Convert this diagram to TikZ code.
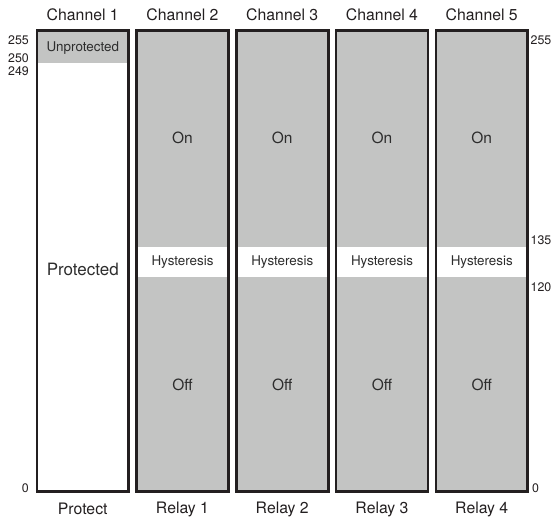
\documentclass[tikz,border=0pt]{standalone}
\usepackage{fontspec}
\setmainfont{TeX Gyre Heros}
\definecolor{ink}{RGB}{35,31,32}
\definecolor{fillg}{RGB}{195,196,195}
\definecolor{txt}{RGB}{45,45,45}
\begin{document}
\begin{tikzpicture}[x=1pt,y=-1pt,
  colbox/.style={draw=ink,line width=2.6pt},
  head/.style={font=\fontsize{15.8}{18}\selectfont,text=ink,inner sep=0pt},
  scalelbl/.style={font=\fontsize{12.4}{14}\selectfont,text=ink,inner sep=0pt},
  inlbl/.style={font=\fontsize{15.5}{18}\selectfont,text=txt,inner sep=0pt},
  smalllbl/.style={font=\fontsize{13.4}{16}\selectfont,text=txt,inner sep=0pt}]
\useasboundingbox (0,0) rectangle (552,519);
% Channel 1
\fill[fillg] (35.5,29) rectangle (130,63);
\draw[colbox] (36.8,30.3) rectangle (128.7,491.7);
\node[head] (ch1) at (82.75,15) {Channel 1};
\node[head] (pr) at (82.75,509) {Protect};
\node[smalllbl] (unp) at (82.75,48) {Unprotected};
\node[font=\fontsize{17}{20}\selectfont,text=txt,inner sep=0pt] (prot) at (82.75,269) {Protected};
% Channels 2-5
\foreach \i/\r in {2/1,3/2,4/3,5/4}{
  \pgfmathsetmacro{\L}{35.5+99.75*(\i-1)}
  \pgfmathsetmacro{\R}{\L+94.5}
  \pgfmathsetmacro{\C}{(\L+\R)/2}
  \fill[fillg] (\L,29) rectangle (\R,493);
  \fill[white] (\L,247) rectangle (\R,277);
  \draw[colbox] (\L+1.3,30.3) rectangle (\R-1.3,491.7);
  \node[head] (ch\i) at (\C,15) {Channel \i};
  \node[head] (rl\r) at (\C,509) {Relay \r};
  \node[inlbl] (on\i) at (\C,138) {On};
  \node[smalllbl] (hy\i) at (\C,262) {Hysteresis};
  \node[inlbl] (off\i) at (\C,385) {Off};
}
% scale labels left
\node[scalelbl,anchor=east] (l255) at (29,40) {255};
\node[scalelbl,anchor=east] (l250) at (29,58) {250};
\node[scalelbl,anchor=east] (l249) at (29,71) {249};
\node[scalelbl,anchor=east] (l0) at (29,488) {0};
% scale labels right
\node[scalelbl,anchor=east] (r255) at (551.5,40) {255};
\node[scalelbl,anchor=east] (r135) at (551.5,240) {135};
\node[scalelbl,anchor=east] (r120) at (551.5,287) {120};
\node[scalelbl,anchor=west] (r0) at (532,488) {0};
\end{tikzpicture}
\end{document}
